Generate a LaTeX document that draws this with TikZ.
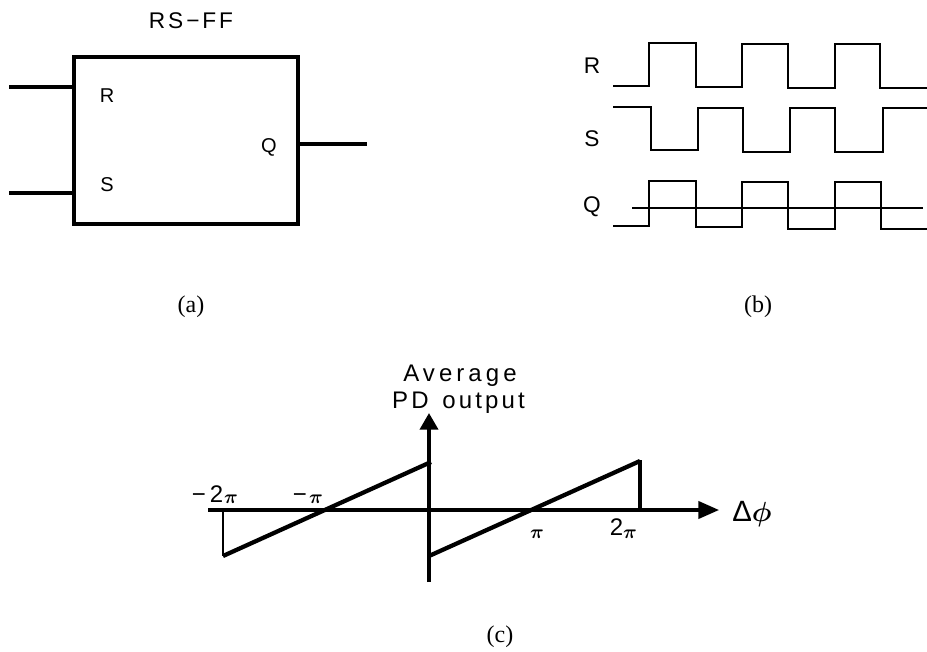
\documentclass[tikz,border=0pt]{standalone}
\usepackage{fontspec}
\setmainfont{Liberation Sans}
\newfontfamily\capfont{Liberation Serif}
\usetikzlibrary{arrows.meta}
\tikzset{
 x=0.75pt,y=-0.75pt,
 wire/.style={line width=2.6pt},
 wave/.style={line width=2.2pt,line join=miter},
 thinwave/.style={line width=1.5pt},
 axis/.style={line width=2.3pt},
 ramp/.style={line width=3.2pt},
 lbl/.style={inner sep=0pt,font=\fontsize{15}{17}\selectfont},
 lblb/.style={inner sep=0pt,font=\fontsize{17}{19}\selectfont},
 graphtext/.style={inner sep=0pt,font=\fontsize{18}{20}\selectfont},
 captext/.style={inner sep=0pt,font=\capfont\fontsize{18}{20}\selectfont},
 ticktext/.style={inner sep=0pt,anchor=base,font=\fontsize{18}{20}\selectfont},
 pitext/.style={inner sep=0pt,anchor=base,font=\fontsize{15}{17}\selectfont\boldmath}
}
\begin{document}
\begin{tikzpicture}
\useasboundingbox (0,0) rectangle (927,652);
% (a)
\node[draw,line width=3pt,minimum width=168pt,minimum height=125.25pt,inner sep=0pt,outer sep=0pt,anchor=north west] (ff) at (74,57) {};
\node[lblb] (title) at (191,21) {\addfontfeatures{LetterSpace=13}RS\char"2212 FF};
\node[lbl] (lr) at (107,96) {R};
\node[lbl] (ls) at (107,185) {S};
\node[lbl] (lq) at (269,147) {Q};
\coordinate (ri) at (9,87);
\coordinate (si) at (9,193);
\coordinate (qo) at (367,144);
\draw[wire] (ri) -- (ri -| ff.west);
\draw[wire] (si) -- (si -| ff.west);
\draw[wire] (qo -| ff.east) -- (qo);
\node[captext] (capa) at (191,307) {(a)};
% (b)
\node[lblb] (br) at (592,66) {R};
\node[lblb] (bs) at (592,139) {S};
\node[lblb] (bq) at (592,207) {Q};
\draw[wave] (613,86) -- (649,86) -- (649,43) -- (696,43) -- (696,87) -- (742,87) -- (742,44) -- (788,44) -- (788,88) -- (835,88) -- (835,44) -- (880,44) -- (880,88) -- (927,88);
\draw[wave] (613,107) -- (651,107) -- (651,150) -- (698,150) -- (698,108) -- (743,108) -- (743,152) -- (790,152) -- (790,108) -- (835,108) -- (835,152) -- (883,152) -- (883,108) -- (927,108);
\draw[wave] (613,226) -- (649,226) -- (649,181) -- (696,181) -- (696,227) -- (742,227) -- (742,182) -- (788,182) -- (788,229) -- (835,229) -- (835,182) -- (881,182) -- (881,229) -- (927,229);
\draw[thinwave] (632,208) -- (923,208);
\node[captext] (capb) at (758,307) {(b)};
% (c)
\coordinate (xs) at (208,510);
\coordinate (xe) at (719,510);
\coordinate (ys) at (429,582);
\coordinate (ye) at (429,413);
\draw[axis,-{Triangle[length=15.5pt,width=13pt]}] (xs) -- (xe);
\draw[line width=2.9pt,-{Triangle[length=12.5pt,width=13.5pt]}] (ys) -- (ye);
\draw[ramp] (223,556) -- (431,462);
\draw[ramp] (429,556) -- (640,461);
\draw[line width=1.3pt] (223,510) -- (223,556);
\draw[line width=2.9pt] (640,460) -- (640,510);
\node[graphtext] (avg) at (460,376) {\addfontfeatures{LetterSpace=17}Average};
\node[graphtext] (pd) at (458.5,403) {\addfontfeatures{LetterSpace=13}PD\hspace{3pt} output};
\node[ticktext] (m2) at (216.5,502) {2};
\node[ticktext] (m2m) at (199,502) {\char"2212};
\node[pitext] (m2p) at (231,503) {$\pi$};
\node[ticktext] (mm) at (300,502) {\char"2212};
\node[pitext] (mp) at (316,503) {$\pi$};
\node[pitext] (ppi) at (537,538) {$\pi$};
\node[ticktext] (p2) at (616.5,535) {2};
\node[pitext] (p2p) at (630,538) {$\pi$};
\node[inner sep=0pt,anchor=base,font=\fontsize{22}{24}\selectfont\boldmath] (dphi) at (752,521) {\char"0394$\phi$};
\node[captext] (capc) at (500,637) {(c)};
\end{tikzpicture}
\end{document}
